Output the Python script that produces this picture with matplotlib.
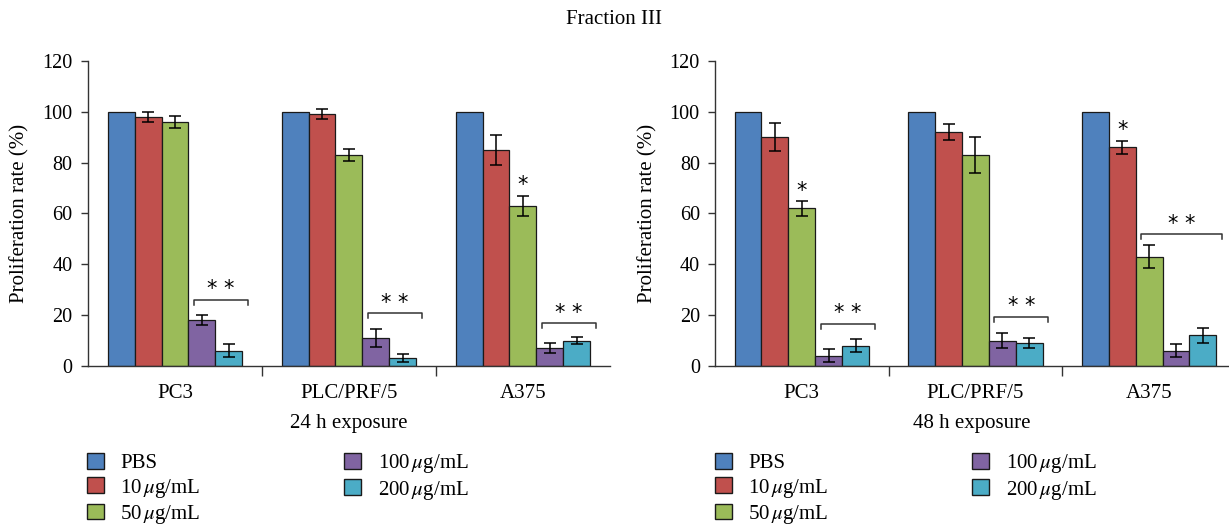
import numpy as np
import matplotlib
matplotlib.use("Agg")
import matplotlib.pyplot as plt
from matplotlib.patches import Patch

plt.rcParams["font.family"] = ["Liberation Serif", "DejaVu Serif"]
plt.rcParams["mathtext.fontset"] = "stix"

CELL_LINES = ["PC3", "PLC/PRF/5", "A375"]
TREATMENTS = ["PBS", r"10$\,\mu$g/mL", r"50$\,\mu$g/mL", r"100$\,\mu$g/mL", r"200$\,\mu$g/mL"]
COLORS = ["#4F81BD", "#C0504D", "#9BBB59", "#8064A2", "#4BACC6"]

# rows = treatment, columns = cell line
rate_24h = [
    [100, 100, 100],
    [98, 99, 85],
    [96, 83, 63],
    [18, 11, 7],
    [6, 3, 10],
]
err_24h = [
    [0, 0, 0],
    [2.0, 2.0, 6.0],
    [2.5, 2.5, 4.0],
    [2.0, 3.5, 2.0],
    [2.5, 1.5, 1.5],
]
rate_48h = [
    [100, 100, 100],
    [90, 92, 86],
    [62, 83, 43],
    [4, 10, 6],
    [8, 9, 12],
]
err_48h = [
    [0, 0, 0],
    [5.5, 3.0, 2.5],
    [3.0, 7.0, 4.5],
    [2.5, 3.0, 2.5],
    [2.5, 2.0, 3.0],
]

# single stars: (cell line, treatment, height)
stars_24h = [(2, 2, 71)]
stars_48h = [(0, 2, 69), (2, 1, 93)]
# brackets: (cell line, first treatment, last treatment, height)
brackets_24h = [(0, 3, 4, 26), (1, 3, 4, 20.7), (2, 3, 4, 16.8)]
brackets_48h = [(0, 3, 4, 16.6), (1, 3, 4, 19.3), (2, 2, 4, 51.8)]

W = 0.155
FS = 15


def draw_panel(ax, rates, errs, stars, brackets, xlabel, xmax):
    x = np.arange(len(CELL_LINES))
    for i, (vals, ee) in enumerate(zip(rates, errs)):
        pos = x + (i - 2) * W
        ax.bar(pos, vals, width=W, color=COLORS[i], edgecolor="#1a1a1a",
               linewidth=0.9, zorder=2)
        if i > 0:
            ax.errorbar(pos, vals, yerr=ee, fmt="none", ecolor="black",
                        elinewidth=1.1, capsize=4, capthick=1.1, zorder=3)

    for c, t, h in stars:
        ax.text(c + (t - 2) * W, h, "*", ha="center", va="center",
                fontsize=FS, family="DejaVu Sans")

    for c, t0, t1, h in brackets:
        x0 = c + (t0 - 2) * W - W / 2 + 0.2 * W
        x1 = c + (t1 - 2) * W + W / 2 + 0.2 * W
        ax.plot([x0, x0, x1, x1], [h - 2, h, h, h - 2], color="#333333",
                lw=1.1, zorder=3)
        ax.text((x0 + x1) / 2, h + 4.2, "* *", ha="center", va="center",
                fontsize=FS, family="DejaVu Sans")

    ax.set_xlim(-0.5, xmax)
    ax.set_ylim(0, 120)
    ax.set_yticks(range(0, 121, 20))
    ax.set_xticks(x)
    ax.set_xticklabels(CELL_LINES, fontsize=FS)
    ax.set_xticks([0.5, 1.5], minor=True)
    ax.tick_params(axis="x", which="major", length=0, pad=13)
    ax.tick_params(axis="x", which="minor", length=7, width=1.0,
                   direction="out", color="#333333")
    ax.tick_params(axis="y", labelsize=FS - 0.5, length=5, width=1.0,
                   color="#333333", pad=6)
    for s in ["top", "right"]:
        ax.spines[s].set_visible(False)
    for s in ["left", "bottom"]:
        ax.spines[s].set_color("#333333")
        ax.spines[s].set_linewidth(1.0)
    ax.set_ylabel("Proliferation rate (%)", fontsize=FS, labelpad=9)
    ax.set_xlabel(xlabel, fontsize=FS, labelpad=8)


fig = plt.figure(figsize=(12.29, 5.25), dpi=100)
ax1 = fig.add_axes([0.0716, 0.303, 0.4247, 0.581])
ax2 = fig.add_axes([0.5818, 0.303, 0.4182, 0.581])

draw_panel(ax1, rate_24h, err_24h, stars_24h, brackets_24h, "24 h exposure", 2.5)
draw_panel(ax2, rate_48h, err_48h, stars_48h, brackets_48h, "48 h exposure", 2.46)

fig.text(0.5, 0.962, "Fraction III", ha="center", va="center", fontsize=FS)

handles = [Patch(facecolor=c, edgecolor="#1a1a1a", linewidth=1.0) for c in COLORS]
for left in (0.064, 0.575):
    fig.legend(handles, TREATMENTS, ncol=2,
               loc="upper left", bbox_to_anchor=(left, 0.154), frameon=False,
               fontsize=FS, handlelength=0.8, handleheight=0.8,
               handletextpad=0.8, columnspacing=6.9, labelspacing=0.15,
               borderaxespad=0)

fig.savefig("out.png", dpi=100)
